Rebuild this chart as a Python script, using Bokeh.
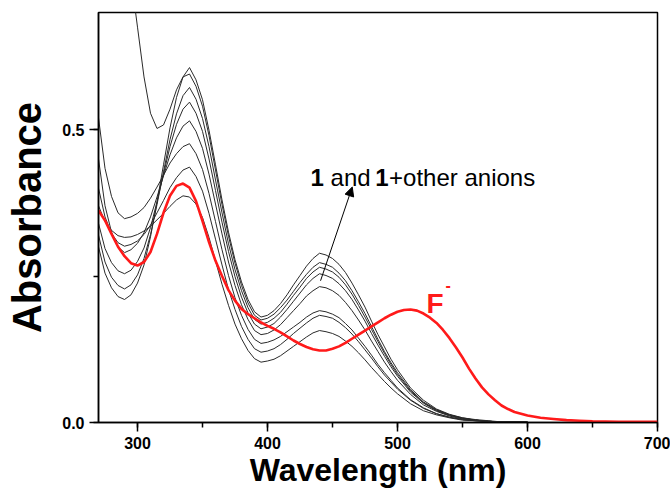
from bokeh.plotting import figure
from bokeh.models import (Range1d, SingleIntervalTicker, PrintfTickFormatter,
                          Arrow, NormalHead, Label)
from bokeh.embed import file_html
from bokeh.resources import INLINE

# Wavelength grid (nm) shared by the receptor / non-fluoride anion spectra
wavelength = [270, 275, 280, 285, 290,
              295, 300, 305, 310, 315, 320, 325, 330, 335, 340,
              345, 350, 355, 360, 365, 370, 375, 380, 385, 390, 395,
              400, 405, 410, 415, 420, 425, 430, 435, 440,
              445, 450, 455, 460, 465, 470, 475, 480, 485, 490, 495, 500,
              510, 520, 530, 540, 550, 560, 570, 580,
              600]

# Absorbance of 1 and of 1 + other anions (black traces)
abs_1 = [0.300, 0.255, 0.230, 0.215, 0.210,
         0.218, 0.238, 0.269, 0.317, 0.376, 0.440, 0.503, 0.555, 0.590, 0.606,
         0.585, 0.551, 0.499, 0.440, 0.380, 0.325, 0.278, 0.240, 0.210, 0.189, 0.180,
         0.183, 0.191, 0.203, 0.218, 0.235, 0.251, 0.267, 0.280, 0.289,
         0.286, 0.280, 0.270, 0.256, 0.238, 0.218, 0.197, 0.173, 0.150, 0.129, 0.108, 0.090,
         0.059, 0.038, 0.023, 0.014, 0.008, 0.005, 0.003, 0.001,
         0.001]
abs_2 = [1.400, 1.220, 1.070, 0.940, 0.840,
         0.760, 0.675, 0.590, 0.528, 0.502, 0.508, 0.535, 0.568, 0.590, 0.595,
         0.574, 0.540, 0.490, 0.431, 0.372, 0.318, 0.272, 0.234, 0.204, 0.183, 0.175,
         0.178, 0.185, 0.196, 0.209, 0.224, 0.239, 0.253, 0.265, 0.273,
         0.270, 0.265, 0.255, 0.242, 0.225, 0.206, 0.186, 0.164, 0.142, 0.121, 0.102, 0.085,
         0.056, 0.035, 0.022, 0.013, 0.008, 0.004, 0.002, 0.001,
         0.001]
abs_3 = [0.320, 0.274, 0.248, 0.234, 0.228,
         0.235, 0.252, 0.280, 0.321, 0.372, 0.428, 0.483, 0.527, 0.558, 0.572,
         0.552, 0.519, 0.471, 0.414, 0.358, 0.305, 0.261, 0.225, 0.196, 0.176, 0.168,
         0.171, 0.178, 0.188, 0.202, 0.217, 0.231, 0.246, 0.257, 0.265,
         0.262, 0.257, 0.248, 0.235, 0.219, 0.200, 0.180, 0.159, 0.138, 0.118, 0.099, 0.082,
         0.054, 0.034, 0.021, 0.013, 0.007, 0.004, 0.002, 0.001,
         0.001]
abs_4 = [0.340, 0.297, 0.273, 0.259, 0.254,
         0.260, 0.275, 0.298, 0.333, 0.377, 0.424, 0.471, 0.509, 0.535, 0.547,
         0.528, 0.497, 0.450, 0.396, 0.342, 0.292, 0.249, 0.214, 0.187, 0.168, 0.160,
         0.163, 0.169, 0.180, 0.193, 0.207, 0.221, 0.235, 0.246, 0.254,
         0.251, 0.246, 0.237, 0.225, 0.210, 0.192, 0.173, 0.152, 0.132, 0.113, 0.095, 0.079,
         0.052, 0.033, 0.020, 0.012, 0.007, 0.004, 0.002, 0.001,
         0.001]
abs_5 = [0.450, 0.370, 0.325, 0.300, 0.290,
         0.295, 0.306, 0.324, 0.351, 0.385, 0.421, 0.457, 0.486, 0.506, 0.515,
         0.497, 0.468, 0.424, 0.373, 0.322, 0.274, 0.234, 0.201, 0.176, 0.157, 0.150,
         0.152, 0.158, 0.167, 0.179, 0.191, 0.203, 0.216, 0.225, 0.232,
         0.230, 0.225, 0.217, 0.205, 0.191, 0.175, 0.158, 0.139, 0.121, 0.103, 0.087, 0.072,
         0.048, 0.030, 0.019, 0.011, 0.006, 0.004, 0.002, 0.001,
         0.000]
abs_6 = [0.520, 0.434, 0.386, 0.358, 0.348,
         0.351, 0.357, 0.367, 0.383, 0.402, 0.422, 0.443, 0.459, 0.471, 0.476,
         0.459, 0.432, 0.391, 0.343, 0.295, 0.251, 0.213, 0.183, 0.159, 0.142, 0.135,
         0.137, 0.141, 0.147, 0.155, 0.163, 0.171, 0.180, 0.187, 0.191,
         0.189, 0.185, 0.179, 0.169, 0.158, 0.144, 0.130, 0.115, 0.099, 0.085, 0.072, 0.059,
         0.039, 0.025, 0.015, 0.009, 0.005, 0.003, 0.002, 0.001,
         0.000]
abs_7 = [0.400, 0.351, 0.323, 0.307, 0.301,
         0.304, 0.310, 0.321, 0.337, 0.358, 0.379, 0.401, 0.418, 0.431, 0.436,
         0.420, 0.395, 0.357, 0.313, 0.269, 0.227, 0.193, 0.164, 0.142, 0.126, 0.120,
         0.122, 0.126, 0.133, 0.142, 0.152, 0.161, 0.170, 0.178, 0.183,
         0.181, 0.178, 0.171, 0.162, 0.151, 0.138, 0.124, 0.110, 0.095, 0.081, 0.069, 0.057,
         0.038, 0.024, 0.015, 0.009, 0.005, 0.003, 0.002, 0.001,
         0.000]
abs_8 = [0.370, 0.343, 0.328, 0.319, 0.316,
         0.317, 0.321, 0.327, 0.335, 0.346, 0.357, 0.369, 0.380, 0.387, 0.385,
         0.373, 0.350, 0.316, 0.276, 0.236, 0.200, 0.168, 0.143, 0.123, 0.109, 0.103,
         0.105, 0.108, 0.114, 0.122, 0.130, 0.138, 0.146, 0.153, 0.157,
         0.155, 0.152, 0.147, 0.139, 0.130, 0.119, 0.107, 0.094, 0.082, 0.070, 0.059, 0.049,
         0.032, 0.020, 0.013, 0.008, 0.004, 0.003, 0.001, 0.001,
         0.000]

# 1 + F- (red trace)
wl_fluoride = [270, 275, 280, 285, 290, 295, 300, 305, 310, 315, 320, 325, 330, 335,
               340, 345, 350, 355, 360, 365, 370, 375, 380, 385, 390, 395, 400, 405,
               410, 415, 420, 425, 430, 435, 440, 445, 450, 455, 460, 465, 470, 475,
               480, 485, 490, 495, 500, 505, 510, 515, 520, 525, 530, 535, 540, 545,
               550, 555, 560, 565, 570, 575, 580, 585, 590, 595, 600,
               610, 620, 630, 640, 650, 670, 700]
abs_fluoride = [0.362, 0.345, 0.322, 0.300, 0.284, 0.272, 0.268, 0.274, 0.291, 0.322,
                0.358, 0.387, 0.404, 0.408, 0.401, 0.378, 0.344, 0.308, 0.276, 0.250,
                0.226, 0.208, 0.194, 0.185, 0.178, 0.171, 0.165, 0.160, 0.154, 0.147,
                0.140, 0.134, 0.129, 0.125, 0.123, 0.123, 0.126, 0.130, 0.136, 0.143,
                0.150, 0.157, 0.164, 0.171, 0.178, 0.184, 0.189, 0.192, 0.193, 0.191,
                0.186, 0.179, 0.170, 0.158, 0.144, 0.128, 0.111, 0.092, 0.075, 0.060,
                0.048, 0.038, 0.029, 0.023, 0.018, 0.015, 0.012,
                0.008, 0.006, 0.004, 0.003, 0.002, 0.001, 0.001]

black_spectra = [abs_1, abs_2, abs_3, abs_4, abs_5, abs_6, abs_7, abs_8]

FONT = "Liberation Sans"

p = figure(width=670, height=493,
           x_range=Range1d(270, 700), y_range=Range1d(0, 0.70),
           output_backend="svg", toolbar_location=None,
           min_border_left=98, min_border_right=13,
           min_border_top=12, min_border_bottom=71)
p.background_fill_color = "white"
p.border_fill_color = "white"
p.xgrid.visible = False
p.ygrid.visible = False
p.outline_line_color = "black"
p.outline_line_width = 1.5

p.xaxis.ticker = SingleIntervalTicker(interval=100, num_minor_ticks=2)
p.yaxis.ticker = SingleIntervalTicker(interval=0.5, num_minor_ticks=2)
p.yaxis.formatter = PrintfTickFormatter(format="%.1f")

for ax in (p.xaxis, p.yaxis):
    ax.axis_line_width = 1.5
    ax.axis_line_color = "black"
    ax.major_tick_line_width = 1.5
    ax.minor_tick_line_width = 1.5
    ax.major_tick_line_color = "black"
    ax.minor_tick_line_color = "black"
    ax.major_tick_in = 0
    ax.major_tick_out = 9
    ax.minor_tick_in = 0
    ax.minor_tick_out = 5
    ax.major_label_text_font = FONT
    ax.major_label_text_font_style = "bold"
    ax.major_label_text_font_size = "16px"
    ax.major_label_text_color = "black"
    ax.axis_label_text_font = FONT
    ax.axis_label_text_font_style = "bold"
    ax.axis_label_text_color = "black"

p.xaxis.axis_label = "Wavelength (nm)"
p.xaxis.axis_label_text_font_size = "32px"
p.xaxis.major_label_standoff = 5
p.xaxis.axis_label_standoff = 0
p.yaxis.axis_label = "Absorbance"
p.yaxis.axis_label_text_font_size = "40px"
p.yaxis.major_label_standoff = 5
p.yaxis.axis_label_standoff = 10

for spec in black_spectra:
    p.line(wavelength, spec, line_color="#2a2a2a", line_width=1)

p.line(wl_fluoride, abs_fluoride, line_color="#ff1a1a", line_width=2.6)

# Arrow pointing through the 440 nm band towards its caption
p.add_layout(Arrow(end=NormalHead(size=9, fill_color="black", line_color="black"),
                   x_start=440.8, y_start=0.242, x_end=465.2, y_end=0.402,
                   line_color="black", line_width=1))

label_y = 0.418
for txt, x, style in [("1", 433.1, "bold"), ("and", 448.5, "normal"),
                      ("1", 482.8, "bold"), ("+other anions", 493.5, "normal")]:
    p.add_layout(Label(x=x, y=label_y, text=txt, text_font=FONT,
                       text_font_style=style, text_font_size="24px",
                       text_color="black", text_baseline="alphabetic",
                       text_align="left"))

p.add_layout(Label(x=522.3, y=0.203, text="F", text_font=FONT,
                   text_font_style="bold", text_font_size="28px",
                   text_color="#ff1a1a", text_baseline="alphabetic"))
p.add_layout(Label(x=537.0, y=0.2355, text="-", text_font=FONT,
                   text_font_style="bold", text_font_size="16px",
                   text_color="#ff1a1a", text_baseline="middle"))

open("out.html", "w").write(file_html(p, INLINE))
